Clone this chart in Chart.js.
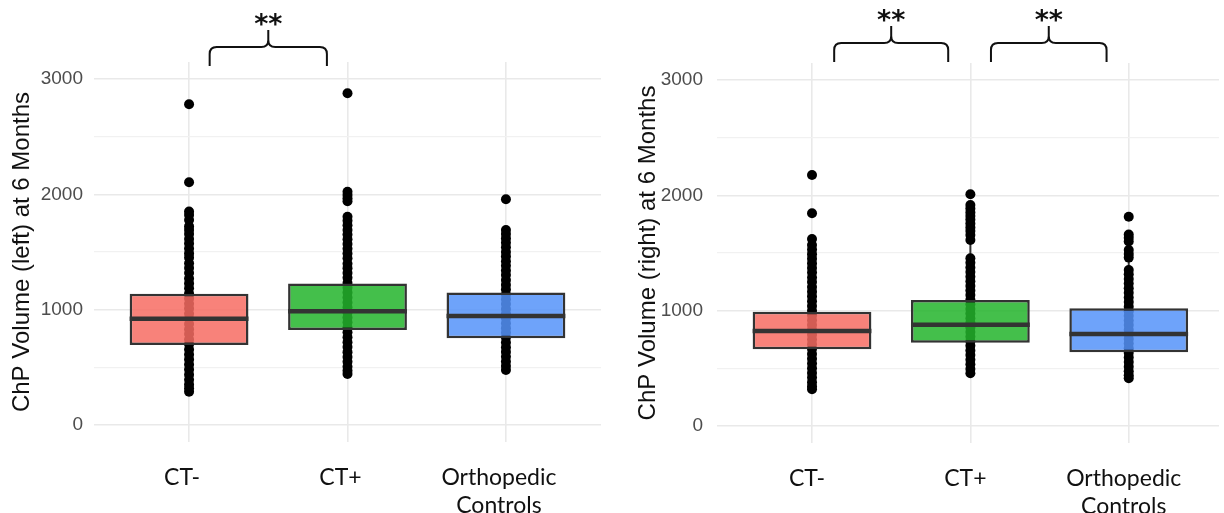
<!DOCTYPE html>
<html>
<head>
<meta charset="utf-8">
<script src="https://cdn.jsdelivr.net/npm/chart.js@4.4.1/dist/chart.umd.min.js"></script>
<style>
    html, body { margin: 0; padding: 0; background: #fff; }
    .panel { position: absolute; top: 0; width: 612px; height: 513px; }
    #panelLeft { left: 0; }
    #panelRight { left: 612px; }
</style>
</head>
<body>
<div class="panel" id="panelLeft"><canvas id="chartLeft" width="612" height="513"></canvas></div>
<div class="panel" id="panelRight"><canvas id="chartRight" width="612" height="513"></canvas></div>
<script>
// groups + ticks
const groups = ["CT-", "CT+", ["Orthopedic", "Controls"]];
const yTicks = [0, 500, 1000, 1500, 2000, 2500, 3000];

// left ChP volume - box stats
const leftQ1 = [694, 824, 752];
const leftMedian = [922, 986, 945];
const leftQ3 = [1139, 1228, 1150];
const leftWhiskerLow = [289, 442, 477];
const leftWhiskerHigh = [1778, 1806, 1691];

// left ChP volume - individual subjects
const leftCTneg = [2781, 2104, 1850, 1821, 1778, 1722, 1690, 1655, 1612, 1574, 1530, 1488, 1451, 1402, 1362, 1318, 1271, 1228, 1185, 1141, 1098, 1052, 1011, 965, 921, 876, 830, 789, 742, 701, 655, 612, 569, 524, 481, 437, 393, 351, 318, 289];
const leftCTpos = [2876, 2022, 1994, 1966, 1940, 1806, 1770, 1732, 1690, 1652, 1611, 1570, 1528, 1486, 1446, 1398, 1360, 1318, 1276, 1232, 1190, 1148, 1105, 1062, 1020, 976, 932, 890, 846, 804, 761, 718, 676, 632, 590, 548, 506, 470, 442];
const leftOrtho = [1957, 1691, 1655, 1618, 1580, 1541, 1500, 1462, 1420, 1381, 1340, 1300, 1258, 1215, 1175, 1132, 1090, 1050, 1006, 965, 925, 882, 840, 800, 758, 716, 675, 634, 592, 551, 512, 477];

// right ChP volume - box stats
const rightQ1 = [665, 722, 639];
const rightMedian = [824, 878, 798];
const rightQ3 = [991, 1092, 1020];
const rightWhiskerLow = [320, 457, 414];
const rightWhiskerHigh = [1569, 1613, 1525];

// right ChP volume - individual subjects
const rightCTneg = [2176, 1844, 1621, 1569, 1530, 1490, 1451, 1410, 1370, 1331, 1288, 1248, 1206, 1165, 1124, 1082, 1040, 1000, 958, 916, 875, 834, 792, 750, 708, 667, 625, 584, 542, 500, 460, 420, 380, 345, 320];
const rightCTpos = [2009, 1916, 1885, 1852, 1820, 1790, 1756, 1722, 1690, 1655, 1613, 1454, 1415, 1375, 1335, 1295, 1255, 1215, 1175, 1135, 1095, 1055, 1015, 975, 935, 895, 855, 815, 775, 735, 695, 655, 615, 575, 535, 495, 457];
const rightOrtho = [1815, 1660, 1632, 1600, 1525, 1492, 1460, 1353, 1315, 1275, 1235, 1195, 1155, 1115, 1075, 1035, 995, 955, 915, 875, 835, 795, 755, 715, 675, 635, 595, 555, 515, 475, 440, 414];

// significance brackets [from, to] in group units
const leftBrackets = [[1.13, 1.87]];
const rightBrackets = [[1.14, 1.86], [2.13, 2.86]];

const boxFill = ["rgba(247,108,99,0.85)", "rgba(35,180,44,0.85)", "rgba(85,147,249,0.85)"];
const BOX_HALF = 0.375;

const bracePlugin = {
    id: "sigBrackets",
    afterDraw(chart, args, opts) {
        const ctx = chart.ctx;
        const xs = chart.scales.x;
        const yBar = opts.y;
        const r = 7;
        ctx.save();
        ctx.strokeStyle = "#111";
        ctx.lineWidth = 2;
        ctx.fillStyle = "#111";
        (opts.items || []).forEach(([a, b]) => {
            const x1 = xs.getPixelForValue(a);
            const x2 = xs.getPixelForValue(b);
            const xm = (x1 + x2) / 2;
            ctx.beginPath();
            ctx.moveTo(x1, yBar + opts.drop);
            ctx.lineTo(x1, yBar + r);
            ctx.quadraticCurveTo(x1, yBar, x1 + r, yBar);
            ctx.lineTo(xm - r, yBar);
            ctx.quadraticCurveTo(xm, yBar, xm, yBar - r);
            ctx.lineTo(xm, yBar - opts.rise);
            ctx.moveTo(x2, yBar + opts.drop);
            ctx.lineTo(x2, yBar + r);
            ctx.quadraticCurveTo(x2, yBar, x2 - r, yBar);
            ctx.lineTo(xm + r, yBar);
            ctx.quadraticCurveTo(xm, yBar, xm, yBar - r);
            ctx.stroke();

            ctx.font = "bold 27px 'DejaVu Sans'";
            ctx.textAlign = "center";
            ctx.textBaseline = "alphabetic";
            ctx.fillText("**", xm, yBar - opts.rise + 3);
        });
        ctx.restore();
    },
};

function buildDatasets(q1, med, q3, wLow, wHigh, pointSets) {
    const ds = [];
    // whiskers (thin floating bars)
    ds.push({
        type: "bar",
        data: groups.map((g, i) => ({ x: i + 1, y: [wLow[i], wHigh[i]] })),
        backgroundColor: "#333",
        barThickness: 1.3,
        grouped: false,
        order: 4,
    });
    // subjects
    pointSets.forEach((arr, i) => {
        ds.push({
            type: "scatter",
            data: arr.map((v) => ({ x: i + 1, y: v })),
            backgroundColor: "#000",
            borderWidth: 0,
            pointRadius: 5,
            order: 3,
        });
    });
    // boxes
    ds.push({
        type: "bar",
        data: groups.map((g, i) => ({ x: i + 1, y: [q1[i], q3[i]] })),
        backgroundColor: boxFill,
        borderColor: "#333",
        borderWidth: 2.5,
        borderSkipped: false,
        barPercentage: 0.75,
        categoryPercentage: 1,
        grouped: false,
        order: 2,
    });
    // medians
    med.forEach((m, i) => {
        ds.push({
            type: "line",
            data: [
                { x: i + 1 - BOX_HALF, y: m },
                { x: i + 1 + BOX_HALF, y: m },
            ],
            borderColor: "#333",
            borderWidth: 4.5,
            pointRadius: 0,
            order: 1,
        });
    });
    return ds;
}

function makeChart(canvasId, cfg) {
    const canvas = document.getElementById(canvasId);
    return new Chart(canvas, {
        type: "bar",
        data: {
            datasets: buildDatasets(cfg.q1, cfg.med, cfg.q3, cfg.wLow, cfg.wHigh, cfg.points),
        },
        options: {
            responsive: false,
            animation: false,
            devicePixelRatio: 1,
            layout: { padding: { top: cfg.top, right: cfg.padRight, left: 0, bottom: 0 } },
            plugins: {
                legend: { display: false },
                tooltip: { enabled: false },
                sigBrackets: { items: cfg.brackets, y: cfg.braceY, drop: 19, rise: 17 },
            },
            scales: {
                x: {
                    type: "linear",
                    min: 0.4,
                    max: cfg.xMax,
                    offset: false,
                    afterBuildTicks: (s) => {
                        s.ticks = groups.map((g, i) => ({ value: i + 1 }));
                    },
                    afterFit: (s) => {
                        s.height = 513 - cfg.bottom;
                    },
                    ticks: {
                        autoSkip: false,
                        maxRotation: 0,
                        padding: 22,
                        labelOffset: cfg.labelShift,
                        color: "#111",
                        font: { family: "Lato", size: 23 },
                        callback: (v, idx) => groups[idx],
                    },
                    grid: { color: "#e9e9e9", lineWidth: 1.6, drawTicks: false, offset: false },
                    border: { display: false },
                },
                y: {
                    type: "linear",
                    min: -147,
                    max: 3147,
                    afterBuildTicks: (s) => {
                        s.ticks = yTicks.map((v) => ({ value: v }));
                    },
                    afterFit: (s) => {
                        s.width = cfg.axisWidth;
                    },
                    ticks: {
                        padding: cfg.tickPad,
                        color: "#4d4d4d",
                        font: { family: "Liberation Sans", size: 19 },
                        callback: (v) => (v % 1000 === 0 ? String(v) : ""),
                    },
                    grid: {
                        drawTicks: false,
                        color: (c) => (c.tick && c.tick.value % 1000 === 0 ? "#e9e9e9" : "#f1f1f1"),
                        lineWidth: (c) => (c.tick && c.tick.value % 1000 === 0 ? 1.6 : 1.3),
                    },
                    border: { display: false },
                    title: {
                        display: true,
                        text: cfg.title,
                        color: "#111",
                        font: { family: "Liberation Sans", size: 24 },
                        padding: { top: cfg.titlePad, bottom: 0 },
                    },
                },
            },
        },
        plugins: [bracePlugin],
    });
}

document.addEventListener("DOMContentLoaded", () => {
    makeChart("chartLeft", {
        q1: leftQ1, med: leftMedian, q3: leftQ3,
        wLow: leftWhiskerLow, wHigh: leftWhiskerHigh,
        points: [leftCTneg, leftCTpos, leftOrtho],
        brackets: leftBrackets,
        title: "ChP Volume (left) at 6 Months",
        top: 62, bottom: 442, padRight: 11, xMax: 3.6,
        axisWidth: 94, tickPad: 11, titlePad: 8,
        braceY: 47, labelShift: -7,
    });
    makeChart("chartRight", {
        q1: rightQ1, med: rightMedian, q3: rightQ3,
        wLow: rightWhiskerLow, wHigh: rightWhiskerHigh,
        points: [rightCTneg, rightCTpos, rightOrtho],
        brackets: rightBrackets,
        title: "ChP Volume (right) at 6 Months",
        top: 63, bottom: 443, padRight: 0, xMax: 3.57,
        axisWidth: 105, tickPad: 14, titlePad: 22,
        braceY: 43, labelShift: -5,
    });
});
</script>
</body>
</html>
